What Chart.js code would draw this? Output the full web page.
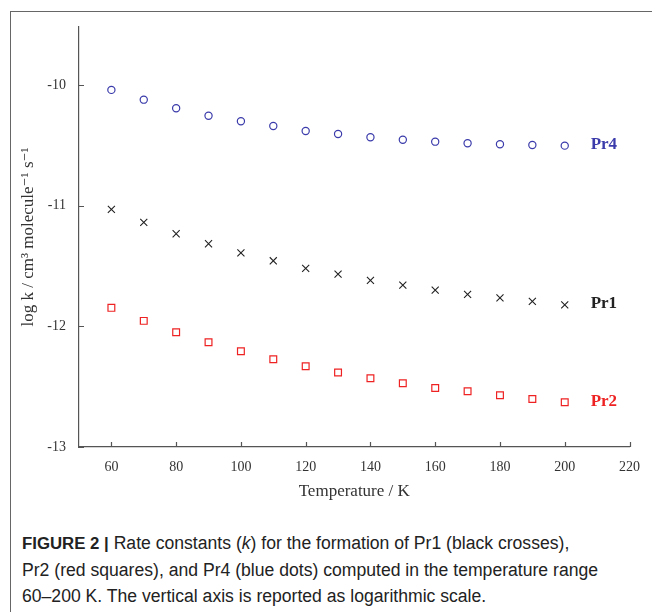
<!DOCTYPE html>
<html>
<head>
<meta charset="utf-8">
<script src="https://cdn.jsdelivr.net/npm/chart.js@4.4.1/dist/chart.umd.min.js"></script>
<style>
  body { margin: 0; background: #fff; }
  #frame {
    position: absolute; left: 10px; top: 11px; width: 660px; height: 620px;
    border-left: 1px solid #666; border-top: 1px solid #666;
  }
  #plot { position: absolute; left: 0; top: 0; width: 652px; height: 520px; }
  #caption {
    position: absolute; left: 22px; top: 530px; width: 625px;
    font-family: "Liberation Sans", Arial, sans-serif; font-size: 17.6px;
    line-height: 26px; color: #222; white-space: nowrap;
  }
  #caption b { font-weight: bold; font-size: 16.8px; }
</style>
</head>
<body>
<div id="frame"></div>
<div id="plot"><canvas id="rate-chart"></canvas></div>
<div id="caption"><b>FIGURE 2 |</b> Rate constants (<i>k</i>) for the formation of Pr1 (black crosses),<br>
Pr2 (red squares), and Pr4 (blue dots) computed in the temperature range<br>
60–200 K. The vertical axis is reported as logarithmic scale.</div>

<script>
const temps = [60, 70, 80, 90, 100, 110, 120, 130, 140, 150, 160, 170, 180, 190, 200];

// log k values
const pr4 = [-10.041, -10.122, -10.193, -10.255, -10.301, -10.340, -10.382, -10.406,
             -10.434, -10.454, -10.470, -10.483, -10.492, -10.498, -10.503];
const pr1 = [-11.031, -11.139, -11.233, -11.316, -11.391, -11.457, -11.520, -11.568,
             -11.620, -11.659, -11.700, -11.735, -11.764, -11.794, -11.822];
const pr2 = [-11.847, -11.955, -12.049, -12.132, -12.207, -12.273, -12.331, -12.383,
             -12.430, -12.472, -12.511, -12.538, -12.571, -12.602, -12.629];

const xTicks = [60, 80, 100, 120, 140, 160, 180, 200, 220];
const yTicks = [-13, -12, -11, -10];
const labelX = 208;   // where the series names sit

const axisColor = '#555';
const serif = '"Liberation Serif", "DejaVu Serif", serif';

function points(vals) {
  return temps.map((t, i) => ({x: t, y: vals[i]}));
}

// ticks pointing into the plot + series names at the right
const innerTicks = {
  id: 'innerTicks',
  afterDraw(chart) {
    const {ctx, scales: {x, y}} = chart;
    ctx.save();
    ctx.strokeStyle = axisColor;
    ctx.lineWidth = 1.2;
    ctx.beginPath();
    x.ticks.forEach(t => {
      const px = Math.round(x.getPixelForValue(t.value)) + 0.5;
      ctx.moveTo(px, y.bottom);
      ctx.lineTo(px, y.bottom - 5);
    });
    y.ticks.forEach(t => {
      const py = Math.round(y.getPixelForValue(t.value)) + 0.5;
      ctx.moveTo(x.left, py);
      ctx.lineTo(x.left + 5, py);
    });
    ctx.stroke();

    ctx.font = 'bold 17px ' + serif;
    ctx.textAlign = 'left';
    ctx.textBaseline = 'middle';
    chart.data.datasets.forEach(ds => {
      const last = ds.data[ds.data.length - 1];
      ctx.fillStyle = ds.borderColor;
      ctx.fillText(ds.label, x.getPixelForValue(labelX), y.getPixelForValue(last.y) - 1);
    });
    ctx.restore();
  }
};

const data = {
  datasets: [
    {
      label: 'Pr4',
      data: points(pr4),
      pointStyle: 'circle',
      pointRadius: 3.6,
      borderWidth: 1.2,
      borderColor: '#3b3bab',
      backgroundColor: 'rgba(0,0,0,0)'
    },
    {
      label: 'Pr1',
      data: points(pr1),
      pointStyle: 'crossRot',
      pointRadius: 5,
      borderWidth: 1.1,
      borderColor: '#222',
      backgroundColor: '#222'
    },
    {
      label: 'Pr2',
      data: points(pr2),
      pointStyle: 'rect',
      pointRadius: 4.8,
      borderWidth: 1.2,
      borderColor: '#ee2222',
      backgroundColor: 'rgba(0,0,0,0)'
    }
  ]
};

const opts = {
  responsive: true,
  maintainAspectRatio: false,
  animation: false,
  layout: {padding: {left: 0, top: 27, right: 14, bottom: 0}},
  plugins: {legend: {display: false}, tooltip: {enabled: false}},
  scales: {
    x: {
      type: 'linear',
      min: 50,
      max: 220,
      afterFit: s => { s.height = 73; },
      afterBuildTicks: s => { s.ticks = xTicks.map(v => ({value: v})); },
      grid: {display: false, drawTicks: false},
      border: {display: true, color: axisColor, width: 1.2},
      ticks: {
        padding: 12, autoSkip: false, maxRotation: 0,
        color: '#333', font: {family: serif, size: 14}
      },
      title: {
        display: true, text: 'Temperature / K', color: '#333',
        font: {family: serif, size: 17}, padding: {top: 0, bottom: 18}
      }
    },
    y: {
      type: 'linear',
      min: -13,
      max: -9.52,
      afterFit: s => { s.width = 79; },
      afterBuildTicks: s => { s.ticks = yTicks.map(v => ({value: v})); },
      grid: {display: false, drawTicks: false},
      border: {display: true, color: axisColor, width: 1.2},
      ticks: {
        padding: 13,
        color: '#333', font: {family: serif, size: 14}
      },
      title: {
        display: true, text: 'log k / cm³ molecule⁻¹ s⁻¹', color: '#333',
        font: {family: serif, size: 17}, padding: {top: 18, bottom: 0}
      }
    }
  }
};

const rateChart = new Chart(document.getElementById('rate-chart'), {
  type: 'scatter',
  data: data,
  options: opts,
  plugins: [innerTicks]
});
</script>
</body>
</html>
